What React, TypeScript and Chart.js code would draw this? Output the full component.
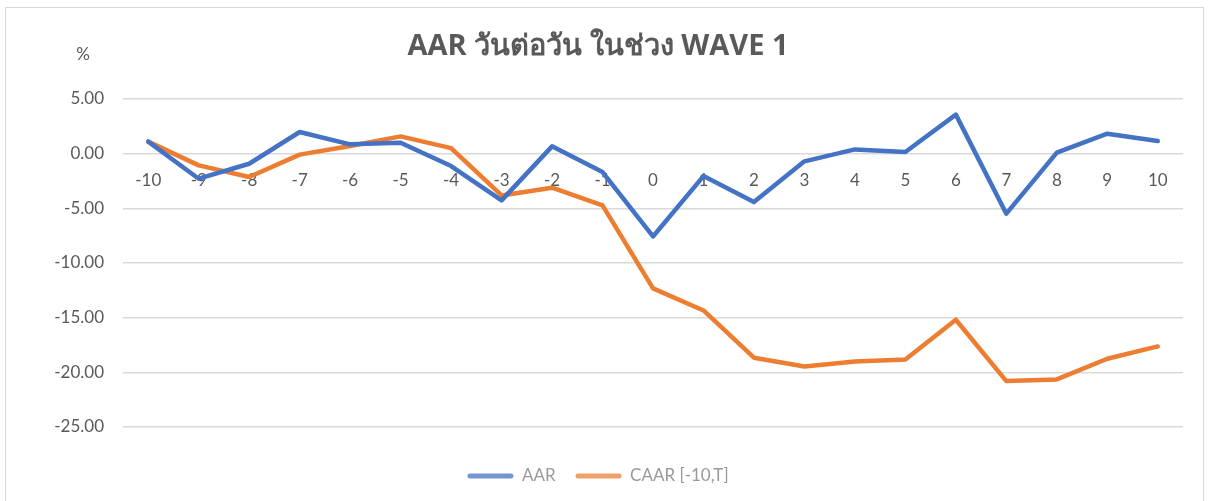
import React, { useEffect, useRef } from "react";
import { Chart, registerables } from "chart.js";
Chart.register(...registerables);

const categories = ["-10", "-9", "-8", "-7", "-6", "-5", "-4", "-3", "-2", "-1", "0", "1", "2", "3", "4", "5", "6", "7", "8", "9", "10"];
const aarValues = [1.1, -2.29, -0.92, 1.98, 0.85, 1.0, -1.13, -4.27, 0.67, -1.68, -7.57, -2.05, -4.43, -0.7, 0.39, 0.15, 3.57, -5.49, 0.09, 1.83, 1.15];
const caarValues = [1.1, -1.07, -2.14, -0.09, 0.7, 1.58, 0.51, -3.82, -3.11, -4.73, -12.32, -14.34, -18.66, -19.46, -19.0, -18.82, -15.19, -20.8, -20.65, -18.76, -17.63];
const seriesNames = ["AAR", "CAAR [-10,T]"];
const seriesColors = ["#4472C4", "#ED7D31"];
const legendColors = ["#7396d2", "#efa06a"];
const titleText = "AAR วันต่อวัน ในช่วง WAVE 1";
const unitLabel = "%";

const FONT = "Lato, 'Noto Sans', 'DejaVu Sans', sans-serif";
const TITLE_FONT = "'Open Sans', 'Noto Sans', 'DejaVu Sans', sans-serif";

export default function App() {
  const ref = useRef<HTMLCanvasElement | null>(null);
  useEffect(() => {
    if (!ref.current) return;
    const unitPlugin = {
      id: "unitLabel",
      afterDraw(chart: any) {
        const ctx = chart.ctx;
        ctx.save();
        ctx.font = `17px ${FONT}`;
        ctx.fillStyle = "#595959";
        ctx.textAlign = "center";
        ctx.textBaseline = "middle";
        ctx.fillText(unitLabel, 83, 55);
        ctx.restore();
      },
    };
    const chart = new Chart(ref.current, {
      type: "line",
      data: {
        labels: categories,
        datasets: [
          { label: seriesNames[0], data: aarValues, borderColor: seriesColors[0], backgroundColor: seriesColors[0], borderWidth: 4.5, pointRadius: 0, tension: 0, borderJoinStyle: "round", borderCapStyle: "round" },
          { label: seriesNames[1], data: caarValues, borderColor: seriesColors[1], backgroundColor: seriesColors[1], borderWidth: 4.5, pointRadius: 0, tension: 0, borderJoinStyle: "round", borderCapStyle: "round" },
        ],
      },
      options: {
        animation: false,
        responsive: false,
        layout: { padding: { left: 13, right: 28, top: 18, bottom: 45.5 } },
        scales: {
          x: {
            type: "category",
            position: { y: 0 } as any,
            offset: true,
            grid: { display: false, drawTicks: false },
            border: { display: false },
            ticks: { color: "#595959", font: { family: FONT, size: 17 }, padding: 17, maxRotation: 0, autoSkip: false },
          },
          y: {
            min: -25,
            max: 5,
            ticks: { stepSize: 5, color: "#595959", font: { family: FONT, size: 17 }, padding: 19, callback: (v: any) => Number(v).toFixed(2) },
            grid: { color: "#d9d9d9", lineWidth: 1.5, drawTicks: false },
            border: { display: false },
            afterFit: (s: any) => { s.width = 110; },
          },
        },
        plugins: {
          title: {
            display: true,
            text: titleText,
            color: "#595959",
            font: { family: TITLE_FONT, size: 29, weight: "bold" },
            padding: { top: 11.6, bottom: 34.6 },
          },
          legend: {
            position: "bottom",
            title: { display: true, text: " ", font: { size: 10 }, padding: 4.25 },
            labels: {
              boxWidth: 46,
              boxHeight: 5,
              padding: 20,
              color: "#999999",
              font: { family: FONT, size: 17 },
              generateLabels: (c: any) =>
                c.data.datasets.map((ds: any, i: number) => ({
                  text: ds.label,
                  fillStyle: legendColors[i],
                  strokeStyle: legendColors[i],
                  lineWidth: 0,
                  borderRadius: 2.5,
                  hidden: false,
                  datasetIndex: i,
                  fontColor: "#999999",
                })),
            },
          },
          tooltip: { enabled: false },
        },
      },
      plugins: [unitPlugin],
    } as any);
    return () => chart.destroy();
  }, []);
  return (
    <div style={{ position: "fixed", left: 0, top: 0, width: 1211, height: 501, overflow: "hidden", background: "#fff" }}>
      <div style={{ position: "absolute", left: 5, top: 7, width: 1199, height: 600, border: "1.5px solid #d9d9d9", boxSizing: "border-box" }} />
      <canvas ref={ref} width={1211} height={540} style={{ position: "absolute", left: 0, top: 0, width: 1211, height: 540 }} />
    </div>
  );
}
